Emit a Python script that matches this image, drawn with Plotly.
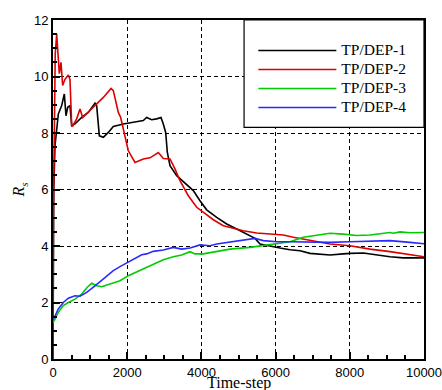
import plotly.graph_objects as go

series_names = ["TP/DEP-1", "TP/DEP-2", "TP/DEP-3", "TP/DEP-4"]
series_colors = ["#000000", "#dd0000", "#00cc00", "#2a2aff"]

t1 = [0, 20, 54, 143, 234, 305, 350, 396, 458, 504, 593, 773, 952, 1132, 1177, 1249, 1357, 1491, 1626, 1896,
      2165, 2434, 2524, 2659, 2794, 2911, 2973, 3037, 3082, 3154, 3334, 3603, 3782, 3962, 4142, 4412, 4682,
      4952, 5221, 5445, 5580, 5849, 6119, 6388, 6658, 6927, 7466, 7825, 8005, 8364, 8724, 9084, 9443, 10000]
r1 = [0, 6.0, 7.55, 8.67, 8.97, 9.38, 8.61, 8.91, 8.97, 8.26, 8.32, 8.55, 8.73, 9.06, 8.97, 7.9, 7.85, 8.02,
      8.23, 8.32, 8.38, 8.44, 8.55, 8.47, 8.5, 8.55, 8.32, 8.02, 7.31, 6.84, 6.49, 6.19, 5.96, 5.6, 5.28, 5.01,
      4.78, 4.60, 4.42, 4.27, 4.07, 3.99, 3.93, 3.87, 3.83, 3.74, 3.68, 3.72, 3.74, 3.75, 3.68, 3.62, 3.58, 3.58]

t2 = [0, 10, 60, 100, 170, 215, 260, 323, 413, 458, 504, 530, 638, 728, 800, 997, 1178, 1357, 1563, 1626,
      1760, 1824, 2030, 2210, 2434, 2614, 2839, 2973, 3154, 3288, 3423, 3647, 3873, 4051, 4322, 4591, 4860,
      5130, 5490, 5849, 6208, 6478, 6927, 7466, 8005, 8544, 9084, 9623, 10000]
r2 = [0, 5, 10.8, 11.5, 10.1, 10.5, 9.68, 9.9, 10.05, 9.9, 8.26, 8.25, 8.5, 8.85, 8.55, 8.79, 9.03, 9.26,
      9.58, 9.5, 8.73, 8.55, 7.37, 6.96, 7.08, 7.12, 7.31, 7.10, 7.08, 6.73, 6.31, 5.78, 5.37, 5.19, 4.93,
      4.72, 4.62, 4.54, 4.46, 4.42, 4.39, 4.31, 4.19, 4.07, 4.01, 3.89, 3.80, 3.68, 3.62]

t3 = [0, 35, 143, 278, 413, 593, 773, 925, 1043, 1178, 1312, 1536, 1806, 2030, 2255, 2524, 2794, 2973, 3243,
      3468, 3693, 3827, 4051, 4322, 4771, 5310, 5669, 6119, 6388, 6747, 7107, 7466, 7825, 8185, 8544, 8904,
      9084, 9174, 9353, 9623, 10000]
r3 = [1.3, 1.36, 1.65, 1.89, 2.0, 2.12, 2.30, 2.54, 2.68, 2.59, 2.56, 2.65, 2.77, 2.95, 3.09, 3.24, 3.40,
      3.51, 3.62, 3.68, 3.80, 3.72, 3.72, 3.78, 3.89, 3.95, 4.01, 4.10, 4.15, 4.31, 4.39, 4.45, 4.42, 4.37,
      4.39, 4.45, 4.48, 4.45, 4.50, 4.47, 4.48]

t4 = [0, 35, 143, 278, 413, 593, 728, 908, 1132, 1357, 1626, 1806, 2030, 2255, 2390, 2524, 2704, 2973, 3243,
      3468, 3693, 3962, 4232, 4412, 4860, 5221, 5445, 5669, 6029, 6388, 6927, 7466, 8005, 8544, 9084, 9623,
      10000]
r4 = [1.4, 1.47, 1.77, 2.0, 2.15, 2.24, 2.22, 2.36, 2.59, 2.83, 3.13, 3.27, 3.42, 3.60, 3.69, 3.72, 3.81,
      3.86, 3.95, 3.89, 3.93, 4.04, 4.01, 4.07, 4.15, 4.22, 4.27, 4.19, 4.15, 4.15, 4.13, 4.13, 4.15, 4.17,
      4.19, 4.13, 4.08]

x_ticks = [0, 2000, 4000, 6000, 8000, 10000]
x_labels = ["0", "2000", "4000", "6000", "8000", "10000"]
y_ticks = [0, 2, 4, 6, 8, 10, 12]
y_labels = ["0", "2", "4", "6", "8", "10", "12"]

SERIF = "Liberation Serif, Times New Roman"

fig = go.Figure()
for t, r, name, col in zip([t1, t2, t3, t4], [r1, r2, r3, r4], series_names, series_colors):
    fig.add_trace(go.Scatter(x=t, y=r, mode="lines",
                             name='<span style="font-size:15.5px">' + name + '</span>',
                             line=dict(color=col, width=1.6)))

axis_common = dict(
    showline=True, linecolor="black", linewidth=2, mirror=True,
    showgrid=True, gridcolor="black", gridwidth=1, griddash="4px,3px",
    ticks="inside", ticklen=7, tickwidth=1.5, tickcolor="black",
    zeroline=False, automargin=False, ticklabeloverflow="allow",
    tickfont=dict(family="Liberation Sans, Arial", size=13, color="black"),
)

fig.update_xaxes(range=[0, 10000], tickvals=x_ticks, ticktext=x_labels,
                 minor=dict(ticks="inside", ticklen=4, dtick=500, tickcolor="black", showgrid=False),
                 **axis_common)
fig.update_yaxes(range=[0, 12], tickvals=y_ticks, ticktext=y_labels,
                 minor=dict(ticks="inside", ticklen=4, dtick=0.5, tickcolor="black", showgrid=False),
                 **axis_common)

# legend box
fig.add_shape(type="rect", xref="paper", yref="paper", x0=0.515, x1=1.0, y0=0.683, y1=1.0,
              line=dict(color="black", width=1.2), fillcolor="white", layer="above")

fig.add_annotation(text="<i>R<sub>s</sub></i>", xref="paper", yref="paper", x=-0.089, y=0.5,
                   xanchor="center", yanchor="middle",
                   textangle=-90, showarrow=False,
                   font=dict(family=SERIF, size=16, color="black"))
fig.add_annotation(text="Time-step", xref="paper", yref="paper", x=0.5, y=-0.071,
                   xanchor="center", yanchor="middle", showarrow=False,
                   font=dict(family=SERIF, size=16, color="black"))

fig.update_layout(
    width=442, height=390,
    margin=dict(l=53, r=18, t=20, b=31),
    paper_bgcolor="white", plot_bgcolor="white",
    showlegend=True,
    legend=dict(x=0.54, y=0.953, xanchor="left", yanchor="top",
                bgcolor="rgba(0,0,0,0)", borderwidth=0, itemwidth=78,
                font=dict(family=SERIF, size=12.3, color="black"),
                tracegroupgap=0),
)

fig.write_html("out.html")
